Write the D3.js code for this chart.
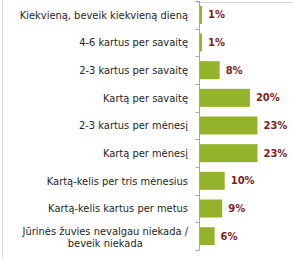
<!DOCTYPE html>
<html>
<head>
  <meta charset="utf-8">
  <script src="https://d3js.org/d3.v7.min.js"></script>
  <style>
    body { margin: 0; background: #fff; }
    svg { display: block; }
  </style>
</head>
<body>
<script>
// categories (top to bottom) and their shares
const categories = [
  "Kiekvieną, beveik kiekvieną dieną",
  "4-6 kartus per savaitę",
  "2-3 kartus per savaitę",
  "Kartą per savaitę",
  "2-3 kartus per mėnesį",
  "Kartą per mėnesį",
  "Kartą-kelis per tris mėnesius",
  "Kartą-kelis kartus per metus",
  "Jūrinės žuvies nevalgau niekada /\nbeveik niekada"
];
const values = [1, 1, 8, 20, 23, 23, 10, 9, 6];
const valueLabels = ["1%", "1%", "8%", "20%", "23%", "23%", "10%", "9%", "6%"];

const W = 293, H = 259;
const axisX = 199.5;
const font = "'DejaVu Sans Condensed', 'DejaVu Sans', Verdana, sans-serif";

const svg = d3.select("body").append("svg")
  .attr("width", W)
  .attr("height", H);

// frame lines (partly visible in the original crop)
svg.append("line")
  .attr("x1", 2.5).attr("x2", 2.5).attr("y1", 0).attr("y2", H)
  .attr("stroke", "#d9d9d9");
svg.append("line")
  .attr("x1", 196).attr("x2", W).attr("y1", 2.5).attr("y2", 2.5)
  .attr("stroke", "#d9d9d9");

const y = d3.scaleBand()
  .domain(categories)
  .range([1, 250])
  .paddingInner(0.35)
  .paddingOuter(0.175);

const x = d3.scaleLinear()
  .domain([0, 25])
  .range([axisX, axisX + 63]);

// bars
svg.selectAll(".bar")
  .data(values)
  .enter().append("rect")
  .attr("class", "bar")
  .attr("x", x(0))
  .attr("y", (d, i) => y(categories[i]))
  .attr("width", d => x(d) - x(0))
  .attr("height", y.bandwidth())
  .attr("fill", "#94b32a");

// axis line + ticks at band boundaries
const step = y.step();
const axisG = svg.append("g").attr("stroke", "#a6a6a6");
axisG.append("line")
  .attr("x1", axisX).attr("x2", axisX)
  .attr("y1", y.range()[0]).attr("y2", y.range()[1]);
const bounds = d3.range(categories.length + 1).map(i => y.range()[0] + i * step);
axisG.selectAll(".tick")
  .data(bounds)
  .enter().append("line")
  .attr("x1", axisX - 4).attr("x2", axisX)
  .attr("y1", d => Math.round(d) + 0.5).attr("y2", d => Math.round(d) + 0.5);

// category labels
const labelRight = 188;
categories.forEach((c, i) => {
  const lines = c.split("\n");
  const cy = y(c) + y.bandwidth() / 2;
  const t = svg.append("text")
    .attr("font-family", font)
    .attr("font-size", 11)
    .attr("fill", "#262626");
  if (lines.length === 1) {
    t.attr("x", labelRight).attr("y", cy).attr("dy", "0.35em")
      .attr("text-anchor", "end").text(c);
  } else {
    const spans = lines.map((l, k) => t.append("tspan")
      .attr("y", cy + 1 + (k - (lines.length - 1) / 2) * 12.5)
      .attr("dy", "0.35em")
      .text(l));
    const maxW = d3.max(spans, s => s.node().getComputedTextLength());
    spans.forEach(s => s.attr("x", labelRight - maxW / 2));
    t.attr("text-anchor", "middle");
  }
});

// value labels
svg.selectAll(".val")
  .data(values)
  .enter().append("text")
  .attr("class", "val")
  .attr("x", d => x(d) + 6)
  .attr("y", (d, i) => y(categories[i]) + y.bandwidth() / 2)
  .attr("dy", "0.35em")
  .attr("font-family", "'DejaVu Sans', Verdana, sans-serif")
  .attr("font-size", 10)
  .attr("font-weight", "bold")
  .attr("fill", "#7f1f1f")
  .text((d, i) => valueLabels[i]);
</script>
</body>
</html>
